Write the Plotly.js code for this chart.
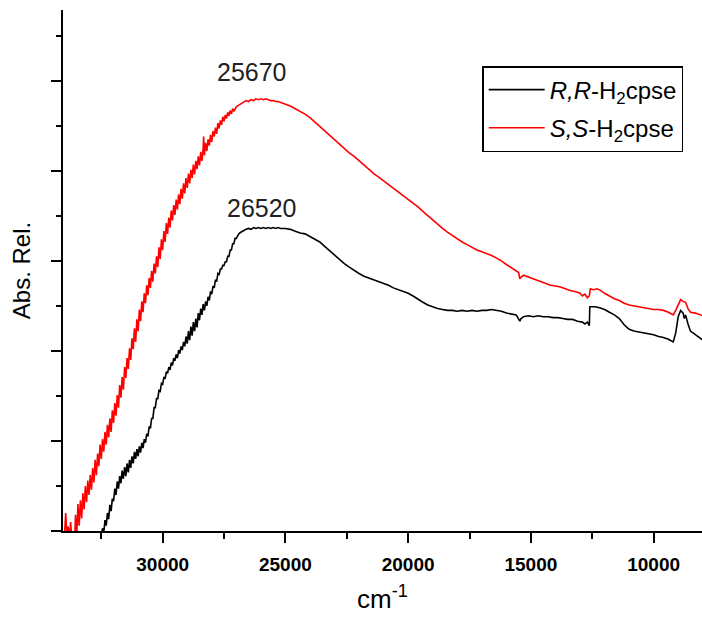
<!DOCTYPE html>
<html>
<head>
<meta charset="utf-8">
<script src="https://cdn.plot.ly/plotly-3.0.1.min.js"></script>
<style>html,body{margin:0;padding:0;background:#fff;}#chart{width:702px;height:620px;}</style>
</head>
<body>
<div id="chart"></div>
<script>
// Series names
var seriesNames = ['<i>R,R</i>-H<sub>2</sub>cpse', '<i>S,S</i>-H<sub>2</sub>cpse'];

// R,R-H2cpse (black) : wavenumber (cm-1) and relative absorbance
var rrX = [32500,32450,32400,32350,32300,32250,32200,32150,32100,32050,32000,31950,31900,31850,31800,31750,31700,31650,31600,31550,31500,31450,31400,31350,31300,31250,31200,31150,31100,31050,31000,30950,30900,30850,30800,30750,30700,30650,30600,30550,30500,30450,30400,30350,30300,30250,30200,30150,30100,30050,30000,29950,29900,29850,29800,29750,29700,29650,29600,29550,29500,29450,29400,29350,29300,29250,29200,29150,29100,29050,29000,28950,28900,28850,28800,28750,28700,28650,28600,28550,28500,28450,28400,28350,28300,28250,28200,28150,28100,28050,28000,27950,27900,27850,27800,27750,27700,27650,27600,27550,27500,27450,27400,27350,27300,27250,27200,27150,27100,27050,27000,26900,26800,26700,26600,26500,26400,26300,26200,26100,26000,25900,25800,25700,25600,25500,25400,25300,25200,25000,24800,24600,24400,24200,24000,23800,23600,23400,23200,23000,22800,22600,22400,22200,22000,21800,21600,21400,21200,21000,20800,20600,20400,20200,20000,19800,19600,19400,19200,19000,18800,18600,18400,18200,18000,17800,17600,17400,17200,17000,16800,16600,16400,16200,16000,15800,15600,15450,15400,15300,15100,14900,14700,14500,14300,14100,13900,13700,13500,13300,13100,12900,12800,12700,12620,12600,12400,12200,12000,11800,11600,11400,11200,11000,10800,10600,10400,10200,10000,9800,9600,9400,9200,9100,9000,8900,8800,8750,8700,8600,8500,8300,8100,8000];
var rrY = [-0.05,0.03,-0.02,0.12,0.06,0.2,0.13,0.29,0.22,0.36,0.33,0.47,0.4,0.55,0.47,0.61,0.53,0.67,0.58,0.71,0.61,0.75,0.65,0.79,0.7,0.83,0.75,0.88,0.8,0.91,0.83,0.94,0.87,0.98,0.92,1.02,0.98,1.08,1.05,1.16,1.14,1.25,1.25,1.37,1.37,1.47,1.47,1.56,1.55,1.64,1.63,1.71,1.69,1.77,1.75,1.82,1.79,1.87,1.84,1.92,1.89,1.96,1.92,2.01,1.97,2.05,2.01,2.1,2.05,2.16,2.08,2.22,2.12,2.27,2.17,2.32,2.22,2.36,2.26,2.42,2.34,2.47,2.4,2.52,2.45,2.55,2.5,2.6,2.56,2.66,2.63,2.72,2.7,2.79,2.77,2.86,2.85,2.91,2.91,2.95,2.95,2.99,2.99,3.05,3.05,3.12,3.12,3.19,3.19,3.25,3.25,3.3,3.32,3.34,3.35,3.36,3.35,3.37,3.36,3.37,3.36,3.37,3.36,3.37,3.36,3.37,3.36,3.37,3.36,3.36,3.35,3.33,3.31,3.3,3.27,3.24,3.21,3.16,3.11,3.07,3.02,2.97,2.93,2.89,2.86,2.83,2.81,2.79,2.77,2.75,2.73,2.7,2.68,2.66,2.64,2.61,2.57,2.54,2.51,2.49,2.47,2.46,2.45,2.45,2.44,2.45,2.44,2.45,2.44,2.45,2.45,2.46,2.45,2.44,2.42,2.41,2.4,2.33,2.36,2.38,2.39,2.38,2.39,2.38,2.38,2.37,2.37,2.36,2.35,2.35,2.33,2.32,2.3,2.32,2.28,2.49,2.49,2.48,2.46,2.43,2.4,2.36,2.29,2.24,2.22,2.21,2.2,2.19,2.18,2.16,2.15,2.13,2.1,2.2,2.38,2.45,2.42,2.36,2.4,2.3,2.22,2.18,2.14,2.12];

// S,S-H2cpse (red)
var ssX = [34000,33950,33900,33850,33800,33750,33700,33650,33600,33550,33500,33450,33400,33350,33300,33250,33200,33150,33100,33050,33000,32950,32900,32850,32800,32750,32700,32650,32600,32550,32500,32450,32400,32350,32300,32250,32200,32150,32100,32050,32000,31950,31900,31850,31800,31750,31700,31650,31600,31550,31500,31450,31400,31350,31300,31250,31200,31150,31100,31050,31000,30950,30900,30850,30800,30750,30700,30650,30600,30550,30500,30450,30400,30350,30300,30250,30200,30150,30100,30050,30000,29950,29900,29850,29800,29750,29700,29650,29600,29550,29500,29450,29400,29350,29300,29250,29200,29150,29100,29050,29000,28950,28900,28850,28800,28750,28700,28650,28600,28550,28500,28450,28400,28350,28330,28300,28250,28200,28150,28100,28050,28000,27950,27900,27850,27800,27750,27700,27650,27600,27550,27500,27450,27400,27350,27300,27250,27200,27150,27100,27000,26900,26800,26700,26600,26500,26400,26300,26200,26100,26000,25900,25800,25700,25600,25500,25400,25300,25200,25000,24800,24600,24400,24200,24000,23800,23600,23400,23200,23000,22800,22600,22400,22200,22000,21800,21600,21400,21200,21000,20800,20600,20400,20200,20000,19800,19600,19400,19200,19000,18800,18600,18400,18200,18000,17800,17600,17400,17200,17000,16800,16600,16400,16200,16000,15800,15600,15500,15450,15400,15300,15200,15000,14800,14600,14400,14200,14000,13800,13600,13400,13200,13000,12900,12800,12700,12620,12580,12450,12300,12150,12000,11800,11600,11400,11200,11000,10800,10600,10400,10200,10000,9800,9600,9400,9200,9100,9000,8900,8800,8700,8600,8500,8300,8100,8000];
var ssY = [-0.05,0.2,-0.05,0.05,-0.1,0.1,-0.1,-0.15,-0.2,0.18,-0.05,0.3,0.06,0.34,0.14,0.42,0.24,0.5,0.32,0.56,0.4,0.62,0.46,0.7,0.54,0.79,0.62,0.86,0.72,0.96,0.8,1.02,0.88,1.1,0.96,1.18,1.04,1.25,1.1,1.34,1.2,1.42,1.28,1.51,1.37,1.62,1.48,1.71,1.57,1.82,1.7,1.92,1.8,2.03,1.9,2.14,2.02,2.25,2.1,2.35,2.22,2.46,2.33,2.55,2.43,2.64,2.53,2.73,2.62,2.81,2.7,2.89,2.77,2.97,2.86,3.05,2.93,3.15,3.02,3.24,3.12,3.33,3.21,3.42,3.3,3.48,3.37,3.56,3.45,3.62,3.51,3.68,3.57,3.74,3.63,3.8,3.69,3.86,3.75,3.92,3.81,3.97,3.86,4.01,3.92,4.07,3.96,4.11,4.02,4.16,4.06,4.21,4.11,4.25,4.38,4.17,4.31,4.22,4.35,4.28,4.4,4.32,4.44,4.38,4.48,4.41,4.53,4.47,4.56,4.51,4.6,4.55,4.62,4.58,4.65,4.61,4.67,4.63,4.69,4.66,4.71,4.73,4.75,4.76,4.78,4.77,4.79,4.78,4.8,4.79,4.8,4.79,4.8,4.79,4.78,4.78,4.77,4.77,4.76,4.74,4.72,4.69,4.66,4.63,4.59,4.54,4.49,4.45,4.4,4.35,4.3,4.25,4.2,4.16,4.11,4.06,4.01,3.97,3.93,3.89,3.85,3.81,3.77,3.73,3.69,3.65,3.6,3.55,3.5,3.45,3.4,3.36,3.32,3.28,3.25,3.21,3.18,3.15,3.12,3.1,3.08,3.06,3.03,3.0,2.96,2.92,2.89,2.87,2.8,2.82,2.84,2.83,2.81,2.79,2.77,2.75,2.73,2.72,2.71,2.69,2.67,2.66,2.64,2.61,2.63,2.59,2.61,2.69,2.68,2.69,2.67,2.64,2.61,2.58,2.56,2.53,2.51,2.5,2.49,2.48,2.47,2.46,2.46,2.45,2.43,2.4,2.45,2.52,2.57,2.55,2.54,2.47,2.43,2.42,2.4,2.39];

// Peak labels
var peakLabels = ['25670', '26520'];
var peakLabelX = [26376, 25969];
var peakLabelY = [5.10, 3.59];

var FONT = 'Liberation Sans, Arial, sans-serif';

var traces = [
  {x: rrX, y: rrY, type: 'scatter', mode: 'lines', name: seriesNames[0], legendgroup: 'a',
   line: {color: '#000000', width: 1.6}},
  {x: ssX, y: ssY, type: 'scatter', mode: 'lines', name: seriesNames[1], legendgroup: 'b',
   line: {color: '#ff0000', width: 1.6}}
];

var annotations = peakLabels.map(function (t, i) {
  return {x: peakLabelX[i], y: peakLabelY[i], xref: 'x', yref: 'y', text: t, showarrow: false,
          font: {family: FONT, size: 25, color: '#222222'}, xanchor: 'center', yanchor: 'middle'};
});

var layout = {
  width: 702, height: 620,
  margin: {l: 63, r: 0, t: 10, b: 89},
  paper_bgcolor: '#ffffff', plot_bgcolor: '#ffffff',
  font: {family: FONT, color: '#000000'},
  showlegend: true,
  legend: {x: 0.656, y: 0.8925, xanchor: 'left', yanchor: 'top',
           bordercolor: '#000000', borderwidth: 1.5, bgcolor: '#ffffff',
           itemwidth: 56,
           font: {family: FONT, size: 24, color: '#000000'}, tracegroupgap: 4},
  xaxis: {
    range: [34060, 8030], showgrid: false, zeroline: false,
    showline: true, linecolor: '#000000', linewidth: 2, mirror: false,
    ticks: 'outside', ticklen: 10, tickwidth: 2, tickcolor: '#000000',
    dtick: 5000, tick0: 0, tickformat: 'd', ticklabelstandoff: 5,
    minor: {dtick: 2500, tick0: 0, ticks: 'outside', ticklen: 6, tickwidth: 2, tickcolor: '#000000', showgrid: false},
    tickfont: {family: FONT, size: 19, weight: 'bold', color: '#000000'},
    title: {text: 'cm<sup>-1</sup>', font: {family: FONT, size: 26, color: '#000000'}, standoff: 16}
  },
  yaxis: {
    range: [0, 5.786], showgrid: false, zeroline: false,
    showline: true, linecolor: '#000000', linewidth: 2, mirror: false,
    ticks: 'outside', ticklen: 10, tickwidth: 2, tickcolor: '#000000',
    dtick: 1, tick0: 0, showticklabels: false,
    minor: {dtick: 0.5, tick0: 0, ticks: 'outside', ticklen: 5, tickwidth: 2, tickcolor: '#000000', showgrid: false},
    title: {text: 'Abs. Rel.', font: {family: FONT, size: 24, color: '#000000'}, standoff: 14}
  },
  annotations: annotations
};

Plotly.newPlot('chart', traces, layout, {displayModeBar: false, staticPlot: true});
</script>
</body>
</html>
